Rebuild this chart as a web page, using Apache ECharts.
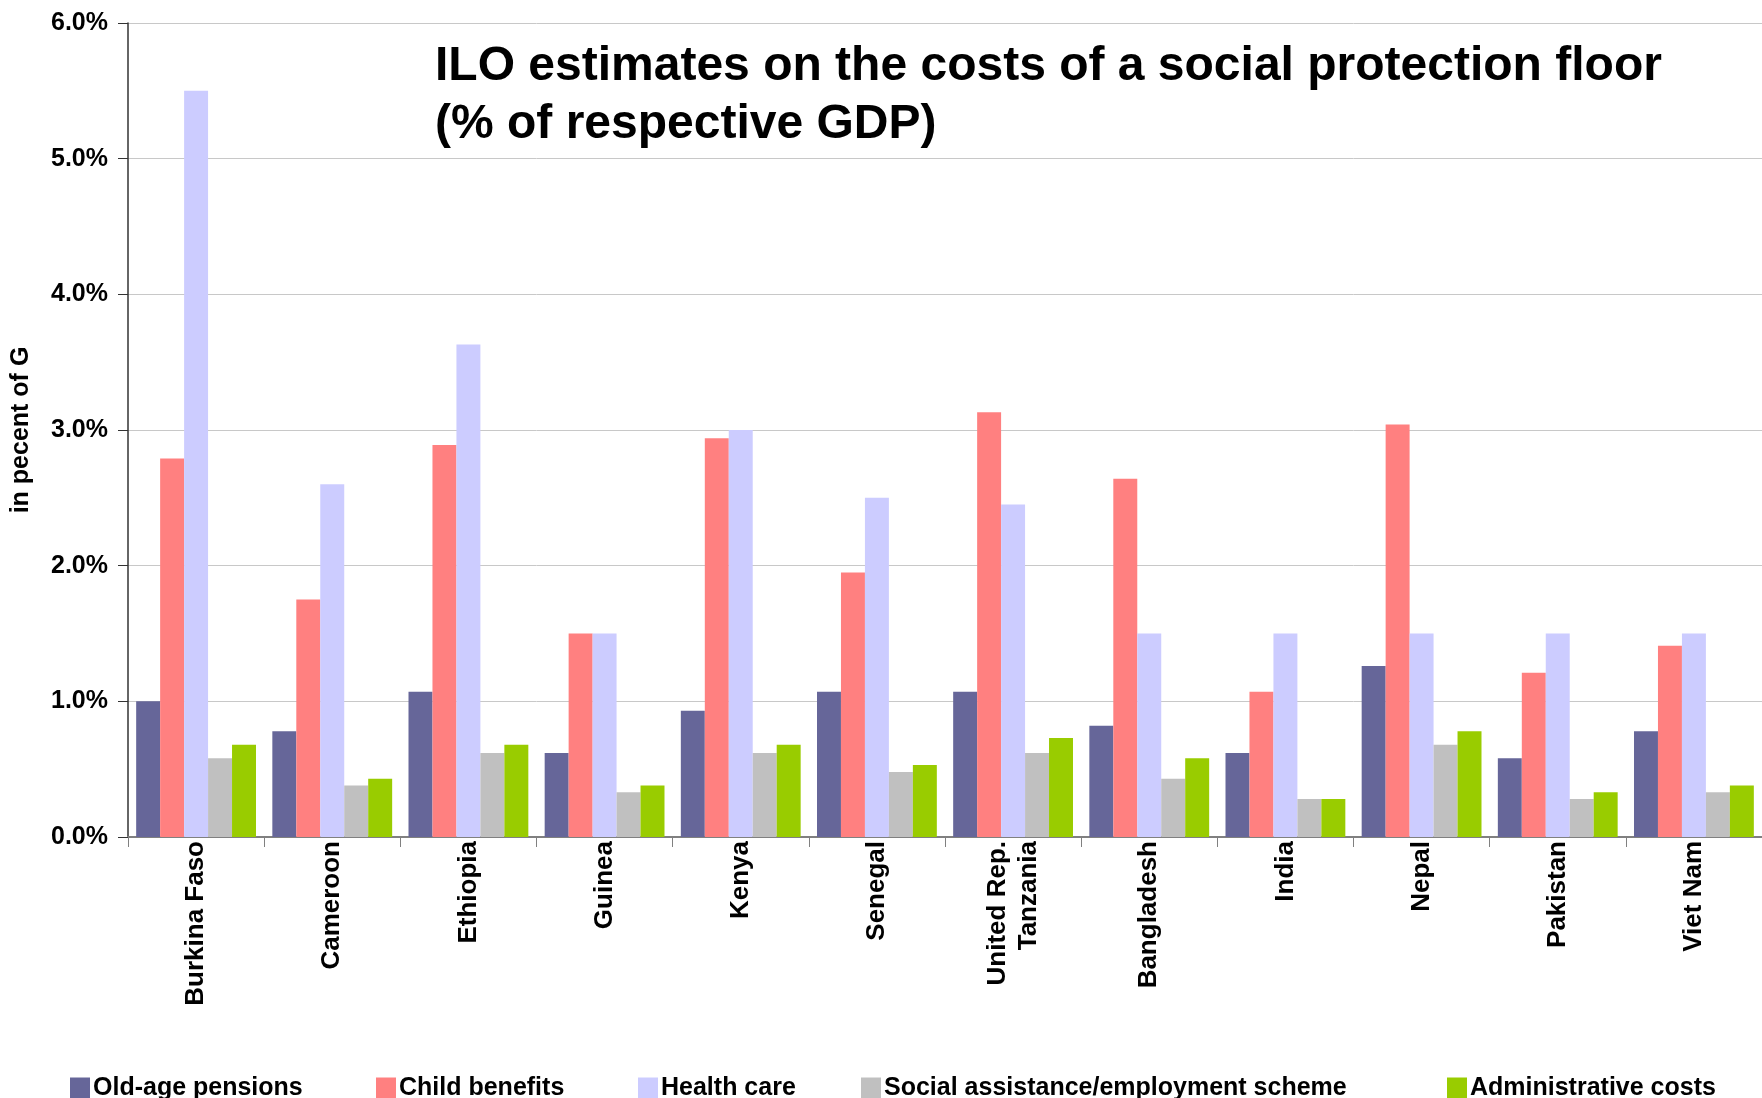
<!DOCTYPE html>
<html>
<head>
<meta charset="utf-8">
<script src="https://cdn.jsdelivr.net/npm/echarts@6/dist/echarts.min.js"></script>
<style>
  html, body { margin: 0; padding: 0; background: #fff; }
  #chart { width: 1762px; height: 1098px; }
</style>
</head>
<body>
<div id="chart"></div>
<script>
// countries
var countries = ['Burkina Faso', 'Cameroon', 'Ethiopia', 'Guinea', 'Kenya', 'Senegal',
  'United Rep.\nTanzania', 'Bangladesh', 'India', 'Nepal', 'Pakistan', 'Viet Nam'];

// series values, % of GDP
var oldAge = [1.0, 0.78, 1.07, 0.62, 0.93, 1.07, 1.07, 0.82, 0.62, 1.26, 0.58, 0.78];
var childBen = [2.79, 1.75, 2.89, 1.5, 2.94, 1.95, 3.13, 2.64, 1.07, 3.04, 1.21, 1.41];
var health = [5.5, 2.6, 3.63, 1.5, 3.0, 2.5, 2.45, 1.5, 1.5, 1.5, 1.5, 1.5];
var social = [0.58, 0.38, 0.62, 0.33, 0.62, 0.48, 0.62, 0.43, 0.28, 0.68, 0.28, 0.33];
var admin = [0.68, 0.43, 0.68, 0.38, 0.68, 0.53, 0.73, 0.58, 0.28, 0.78, 0.33, 0.38];

var seriesNames = ['Old-age pensions', 'Child benefits', 'Health care',
  'Social assistance/employment scheme', 'Administrative costs'];
var colors = ['#666699', '#FF8080', '#CCCCFF', '#C0C0C0', '#99CC00'];
var legendLeft = [65, 371, 633, 856, 1442];

var myChart = echarts.init(document.getElementById('chart'));

var dataSets = [oldAge, childBen, health, social, admin];
var series = [];
var legends = [];
for (var i = 0; i < seriesNames.length; i++) {
  series.push({
    name: seriesNames[i],
    type: 'bar',
    data: dataSets[i],
    barGap: 0,
    barCategoryGap: '12%',
    itemStyle: { color: colors[i] }
  });
  // one legend per item so each sits where it does in the original
  legends.push({
    data: [seriesNames[i]],
    left: legendLeft[i],
    top: 1071,
    icon: 'rect',
    itemWidth: 20,
    itemHeight: 22,
    itemGap: 4,
    textStyle: { fontFamily: 'Liberation Sans', fontWeight: 'bold', fontSize: 25, color: '#000', padding: [0, 0, 0, -2] }
  });
}

var option = {
  animation: false,
  backgroundColor: '#fff',
  title: {
    text: 'ILO estimates on the costs of a social protection floor\n(% of respective GDP)',
    left: 430,
    top: 33,
    textStyle: {
      fontFamily: 'Liberation Sans',
      fontWeight: 'bold',
      fontSize: 48,
      lineHeight: 58,
      color: '#000'
    }
  },
  legend: legends,
  grid: { left: 128, right: 0, top: 23, bottom: 261, outerBoundsMode: 'none' },
  xAxis: {
    type: 'category',
    data: countries,
    axisLine: { lineStyle: { color: '#808080', width: 2 } },
    axisTick: { show: true, length: 10, lineStyle: { color: '#808080' } },
    axisLabel: {
      rotate: 90,
      interval: 0,
      margin: 4,
      fontFamily: 'Liberation Sans',
      fontWeight: 'bold',
      fontSize: 26,
      lineHeight: 31,
      color: '#000'
    }
  },
  yAxis: {
    type: 'value',
    min: 0,
    max: 6,
    interval: 1,
    name: 'in pecent of G',
    nameLocation: 'middle',
    nameRotate: 90,
    nameGap: 94,
    nameMoveOverlap: false,
    nameTextStyle: { fontFamily: 'Liberation Sans', fontWeight: 'bold', fontSize: 25, color: '#000' },
    axisLine: { show: true, lineStyle: { color: '#333', width: 1.5 } },
    axisTick: { show: true, length: 10, lineStyle: { color: '#333' } },
    axisLabel: {
      margin: 20,
      formatter: function (v) { return v.toFixed(1) + '%'; },
      fontFamily: 'Liberation Sans',
      fontWeight: 'bold',
      fontSize: 25,
      color: '#000'
    },
    splitLine: { lineStyle: { color: '#C8C8C8', width: 1 } }
  },
  series: series
};

myChart.setOption(option);
window.addEventListener('resize', function () {
  myChart.resize();
});
</script>
</body>
</html>
